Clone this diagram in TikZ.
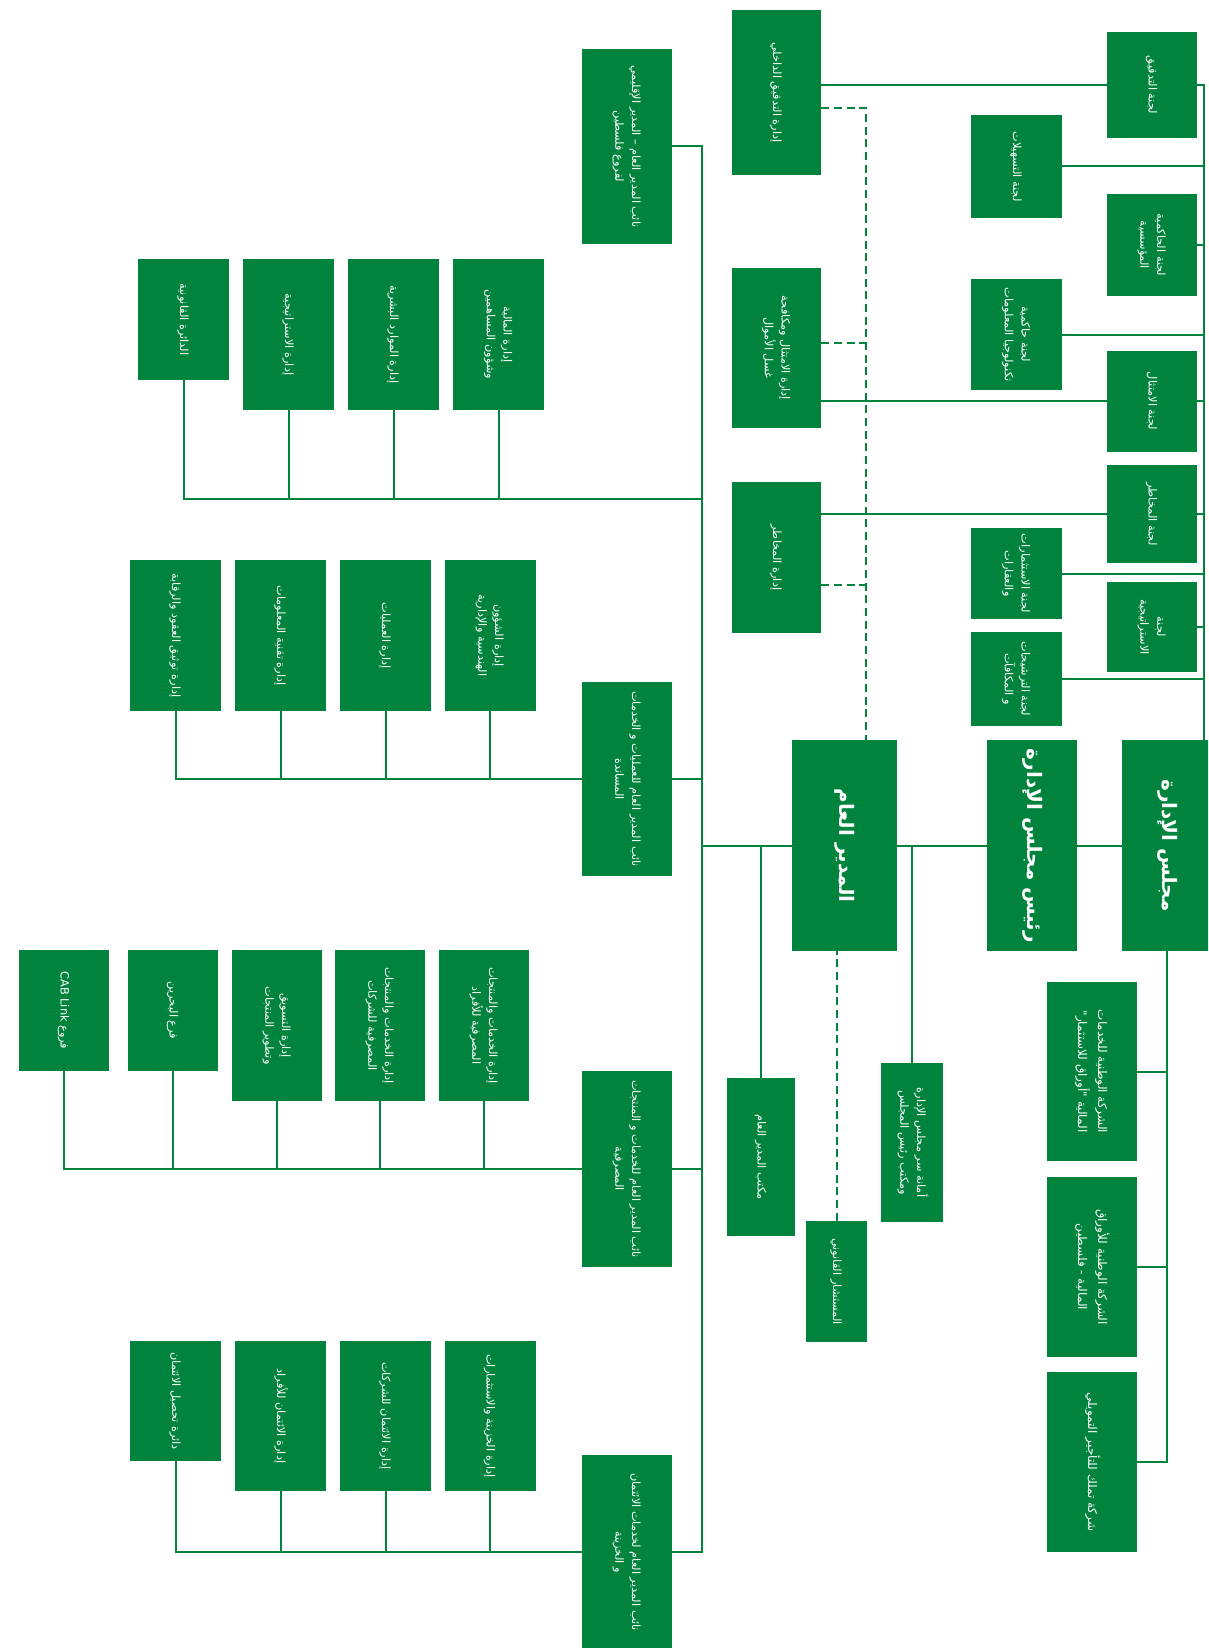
\documentclass[tikz,border=0pt]{standalone}
\usepackage{fontspec}
\usepackage{graphicx}
\usetikzlibrary{calc}
\TeXXeTstate=1
\newfontfamily\arabicfont[Script=Arabic]{DejaVu Sans}
\definecolor{CabGreen}{HTML}{00843D}
% one right-to-left line, and a stack of lines turned a quarter clockwise
\newcommand{\rl}[1]{\beginR#1\endR}
\newcommand{\vt}[1]{\rotatebox{-90}{\begin{tabular}{@{}c@{}}#1\end{tabular}}}

\begin{document}
\begin{tikzpicture}[
    x=0.75pt, y=-0.75pt,
    unit/.style={rectangle, fill=CabGreen, text=white, inner sep=0pt,
        font=\arabicfont\fontsize{8.5}{12.5}\selectfont},
    sz/.style 2 args={minimum width=#1*0.75pt, minimum height=#2*0.75pt},
    topunit/.style={unit, font=\arabicfont\bfseries\fontsize{15}{18}\selectfont},
    subunit/.style={unit, font=\arabicfont\fontsize{9}{15}\selectfont},
    link/.style={CabGreen, line width=1.5pt},
    dlink/.style={CabGreen, line width=1.5pt, dash pattern=on 6pt off 3.5pt}
]
\useasboundingbox (0,0) rectangle (1208,1648);
\fill[white] (0,0) rectangle (1208,1648);
\clip (0,0) rectangle (1208,1648);

% =============================================
% Board, chairman, general manager
% =============================================
\node[topunit, sz={90}{211}] (board) at (1167,845.5) {\vt{\rl{مجلس الإدارة}}};
\node[topunit, sz={90}{211}] (chair) at (1032,845.5) {\vt{\rl{رئيس مجلس الإدارة}}};
\node[topunit, sz={105}{211}] (gm) at (844.5,845.5) {\vt{\rl{المدير العام}}};

% =============================================
% Board committees
% =============================================
\node[unit, sz={90}{106}] (c1) at (1152,85) {\vt{\rl{لجنة التدقيق}}};
\node[unit, sz={91}{103}] (c2) at (1016.5,166.5) {\vt{\rl{لجنة التسهيلات}}};
\node[unit, sz={90}{102}] (c3) at (1152,245) {\vt{\rl{لجنة الحاكمية}\\\rl{المؤسسية}}};
\node[unit, sz={91}{111}] (c4) at (1016.5,334.5) {\vt{\rl{لجنة حاكمية}\\\rl{تكنولوجيا المعلومات}}};
\node[unit, sz={90}{101}] (c5) at (1152,401) {\vt{\rl{لجنة الامتثال}}};
\node[unit, sz={90}{98}] (c6) at (1152,514) {\vt{\rl{لجنة المخاطر}}};
\node[unit, sz={91}{91}] (c7) at (1016.5,573.5) {\vt{\rl{لجنة الاستثمارات}\\\rl{والعقارات}}};
\node[unit, sz={90}{90}] (c8) at (1152,627) {\vt{\rl{لجنة}\\\rl{الاستراتيجية}}};
\node[unit, sz={91}{94}] (c9) at (1016.5,679) {\vt{\rl{لجنة الترشيحات}\\\rl{و المكافآت}}};

% committee bus
\coordinate (busT) at (1204,85);
\draw[link] (c1.east) -- (busT) -- (busT |- board.north);
\foreach \c in {c2,c3,c4,c5,c6,c7,c8,c9}
    \draw[link] (\c.east) -- (\c.east -| busT);

% =============================================
% Control departments
% =============================================
\node[unit, sz={89}{165}] (m1) at (776.5,92.5) {\vt{\rl{إدارة التدقيق الداخلي}}};
\node[unit, sz={89}{160}] (m2) at (776.5,348) {\vt{\rl{إدارة الامتثال ومكافحة}\\\rl{غسل الأموال}}};
\node[unit, sz={89}{151}] (m3) at (776.5,557.5) {\vt{\rl{إدارة المخاطر}}};

\draw[link] (m1.east |- c1.west) -- (c1.west);
\draw[link] (m2.east |- c5.west) -- (c5.west);
\draw[link] (m3.east |- c6.west) -- (c6.west);

% dotted reporting line to the general manager
\coordinate (dT) at (866,108);
\coordinate (dM) at (866,343);
\coordinate (dB) at (866,585);
\draw[dlink] (dT -| m1.east) -- (dT) -- (dT |- gm.north);
\draw[dlink] (dM -| m2.east) -- (dM);
\draw[dlink] (dB -| m3.east) -- (dB);

\draw[link] (board.west) -- (chair.east);
\draw[link] (chair.west) -- (gm.east);

% =============================================
% Subsidiaries
% =============================================
\node[subunit, sz={90}{179}] (s1) at (1092,1071.5) {\vt{\rl{الشركة الوطنية للخدمات}\\\rl{المالية "أوراق للاستثمار"}}};
\node[subunit, sz={90}{180}] (s2) at (1092,1267) {\vt{\rl{الشركة الوطنية للأوراق}\\\rl{المالية - فلسطين}}};
\node[subunit, sz={90}{180}] (s3) at (1092,1462) {\vt{\rl{شركة تملك للتأجير التمويلي}}};

\draw[link] (board.south) |- (s3.east);
\draw[link] (s1.east) -- (s1.east -| board.south);
\draw[link] (s2.east) -- (s2.east -| board.south);

% =============================================
% Offices under the top
% =============================================
\node[unit, sz={62}{159}] (sec) at (912,1142.5) {\vt{\rl{أمانة سر مجلس الإدارة}\\\rl{ومكتب رئيس المجلس}}};
\node[unit, sz={68}{158}] (gmo) at (761,1157) {\vt{\rl{مكتب المدير العام}}};
\node[unit, sz={61}{121}] (legal) at (836.5,1281.5) {\vt{\rl{المستشار القانوني}}};

\draw[link] (sec.north) -- (sec.north |- chair.west);
\draw[link] (gmo.north) -- (gmo.north |- gm.west);
\draw[dlink] (legal.north) -- (legal.north |- gm.south);

% =============================================
% Deputies and trunk
% =============================================
\node[unit, sz={90}{195}] (d1) at (627,146.5) {\vt{\rl{نائب المدير العام – المدير الإقليمي}\\\rl{لفروع فلسطين}}};
\node[unit, sz={90}{194}] (d2) at (627,779) {\vt{\rl{نائب المدير العام للعمليات و الخدمات}\\\rl{المساندة}}};
\node[unit, sz={90}{196}] (d3) at (627,1169) {\vt{\rl{نائب المدير العام للخدمات و المنتجات}\\\rl{المصرفية}}};
\node[unit, sz={90}{195}] (d4) at (627,1552) {\vt{\rl{نائب المدير العام لخدمات الائتمان}\\\rl{و الخزينة}}};

\coordinate (trT) at (702,146.5);
\coordinate (b1) at (702,499);
\draw[link] (d1.east) -- (trT) -- (trT |- d4.east) -- (d4.east);
\draw[link] (gm.west) -- (gm.west -| trT);
\draw[link] (d2.east) -- (d2.east -| trT);
\draw[link] (d3.east) -- (d3.east -| trT);

% =============================================
% Departments
% =============================================
% row 1
\node[unit, sz={91}{121}] (r1a) at (183.5,319.5) {\vt{\rl{الدائرة القانونية}}};
\node[unit, sz={91}{151}] (r1b) at (288.5,334.5) {\vt{\rl{إدارة الاستراتيجية}}};
\node[unit, sz={91}{151}] (r1c) at (393.5,334.5) {\vt{\rl{إدارة الموارد البشرية}}};
\node[unit, sz={91}{151}] (r1d) at (498.5,334.5) {\vt{\rl{إدارة المالية}\\\rl{وشؤون المساهمين}}};
\draw[link] (r1a.south) |- (b1);
\foreach \r in {r1b,r1c,r1d}
    \draw[link] (\r.south) -- (\r.south |- b1);

% row 2
\node[unit, sz={91}{151}] (r2a) at (175.5,635.5) {\vt{\rl{إدارة توثيق العقود والرقابة}}};
\node[unit, sz={91}{151}] (r2b) at (280.5,635.5) {\vt{\rl{إدارة تقنية المعلومات}}};
\node[unit, sz={91}{151}] (r2c) at (385.5,635.5) {\vt{\rl{إدارة العمليات}}};
\node[unit, sz={91}{151}] (r2d) at (490,635.5) {\vt{\rl{إدارة الشؤون}\\\rl{الهندسية والإدارية}}};
\draw[link] (r2a.south) |- (d2.west);
\foreach \r in {r2b,r2c,r2d}
    \draw[link] (\r.south) -- (\r.south |- d2.west);

% row 3
\node[unit, sz={90}{121}] (r3a) at (64,1010.5) {\vt{\rl{فروع \beginL CAB Link\endL}}};
\node[unit, sz={90}{121}] (r3b) at (173,1010.5) {\vt{\rl{فرع البحرين}}};
\node[unit, sz={90}{151}] (r3c) at (277,1025.5) {\vt{\rl{إدارة التسويق}\\\rl{وتطوير المنتجات}}};
\node[unit, sz={90}{151}] (r3d) at (380,1025.5) {\vt{\rl{إدارة الخدمات والمنتجات}\\\rl{المصرفية للشركات}}};
\node[unit, sz={90}{151}] (r3e) at (484,1025.5) {\vt{\rl{إدارة الخدمات والمنتجات}\\\rl{المصرفية للأفراد}}};
\draw[link] (r3a.south) |- (d3.west);
\foreach \r in {r3b,r3c,r3d,r3e}
    \draw[link] (\r.south) -- (\r.south |- d3.west);

% row 4
\node[unit, sz={91}{120}] (r4a) at (175.5,1401) {\vt{\rl{دائرة تحصيل الائتمان}}};
\node[unit, sz={91}{150}] (r4b) at (280.5,1416) {\vt{\rl{إدارة الائتمان للأفراد}}};
\node[unit, sz={91}{150}] (r4c) at (385.5,1416) {\vt{\rl{إدارة الائتمان للشركات}}};
\node[unit, sz={91}{150}] (r4d) at (490,1416) {\vt{\rl{إدارة الخزينة والاستثمارات}}};
\draw[link] (r4a.south) |- (d4.west);
\foreach \r in {r4b,r4c,r4d}
    \draw[link] (\r.south) -- (\r.south |- d4.west);

\end{tikzpicture}
\end{document}
